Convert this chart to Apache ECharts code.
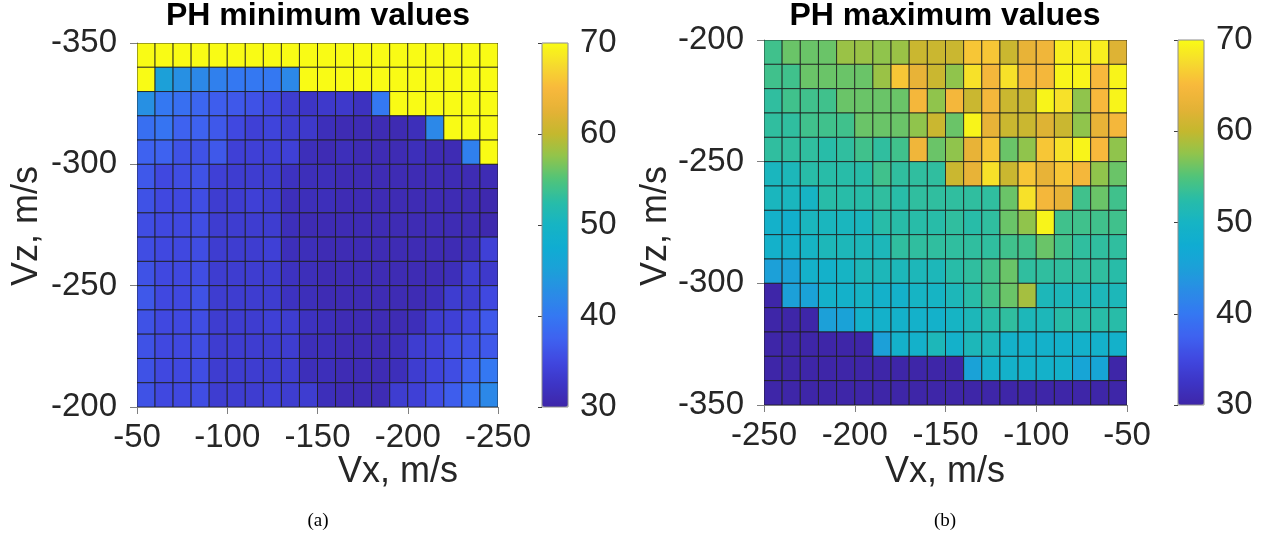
<!DOCTYPE html>
<html>
<head>
<meta charset="utf-8">
<script src="https://cdn.jsdelivr.net/npm/echarts@6/dist/echarts.min.js"></script>
<style>
  html, body { margin: 0; padding: 0; background: #fff; }
  #chart { width: 1261px; height: 548px; }
</style>
</head>
<body>
<div id="chart"></div>
<script>
// cell centres, m/s (cells are 10 m/s wide)
const vxMin = [-55, -65, -75, -85, -95, -105, -115, -125, -135, -145, -155, -165, -175, -185, -195, -205, -215, -225, -235, -245]
const vzMin = [-345, -335, -325, -315, -305, -295, -285, -275, -265, -255, -245, -235, -225, -215, -205]
const vxMax = [-245, -235, -225, -215, -205, -195, -185, -175, -165, -155, -145, -135, -125, -115, -105, -95, -85, -75, -65, -55]
const vzMax = [-205, -215, -225, -235, -245, -255, -265, -275, -285, -295, -305, -315, -325, -335, -345]

// PH minimum, rows top -> bottom, columns left -> right
const phMin = [
  [70, 70, 70, 70, 70, 70, 70, 70, 70, 70, 70, 70, 70, 70, 70, 70, 70, 70, 70, 70],
  [70, 45, 43, 42, 41, 40, 40, 40, 42, 70, 70, 70, 70, 70, 70, 70, 70, 70, 70, 70],
  [43, 40, 39, 38, 37, 36.5, 36, 35, 33.5, 32.5, 33, 33, 32, 40, 70, 70, 70, 70, 70, 70],
  [39, 39.5, 37.5, 37.5, 36.5, 35, 34, 34.5, 33.5, 33, 31.5, 31, 31, 31, 30.8, 31.5, 42, 70, 70, 70],
  [37.5, 37.5, 36, 36, 36.5, 34, 34, 34, 34, 31.5, 31, 31.5, 31, 31, 31, 31.5, 31, 31, 41, 70],
  [36.5, 35, 35.5, 36, 34, 33.5, 33.5, 33.5, 32, 31.5, 31.5, 31, 31, 31, 31, 31, 31, 31, 31, 31],
  [36, 35, 35, 35.5, 33.5, 33.5, 34, 33.5, 31.5, 31.5, 31.5, 31, 31, 31, 31, 31, 31, 31, 31, 30.5],
  [35.5, 35, 35, 35.5, 33.5, 33.5, 33.5, 33.5, 31.5, 31, 31, 31, 31, 31, 31, 31, 31, 31, 31, 30.5],
  [35.5, 35, 35, 35.5, 33.5, 33.5, 33.5, 34, 31.5, 31.5, 31, 31, 31, 31, 31, 31, 31, 31, 31.5, 34],
  [36, 35, 35, 35.5, 33.5, 33.5, 33.5, 33.5, 32, 31.5, 31, 31, 31, 31, 31, 31, 31, 31.5, 33.5, 33],
  [36.5, 35, 35, 36, 33.5, 33.5, 33.5, 33.5, 32, 31.5, 31, 31, 31, 31, 31, 31, 31.5, 33.5, 33.5, 35],
  [36, 35, 35, 35.5, 33.5, 33.5, 33.5, 34, 33.5, 32, 31.5, 31, 31, 31, 31, 31.5, 33.5, 34, 35, 36.5],
  [36, 35, 35, 35.5, 33.5, 33.5, 33.5, 33.5, 33.5, 31.5, 31.5, 31, 31, 31, 31.5, 33.5, 34, 35.5, 36, 36.5],
  [36, 35, 35, 35.5, 33.5, 33.5, 33.5, 33.5, 33.5, 31.5, 31.5, 31, 31, 31, 31.5, 33.5, 34.5, 35.5, 37.5, 40],
  [36, 35, 35, 35.5, 33.5, 33.5, 33.5, 34, 33.5, 33.5, 31.5, 31, 31, 31, 33.5, 34, 35.5, 37, 39.5, 42]
]

// PH maximum, rows top -> bottom, columns left -> right
const phMax = [
  [54, 56, 56, 56, 58, 58, 57.5, 58, 60.5, 60.5, 60.5, 66, 66, 60.5, 63, 64, 69, 69, 69, 62],
  [54, 54, 56, 56, 56, 56, 58, 66, 63, 60.5, 57.5, 68, 64.5, 68, 64.5, 64.5, 69.5, 69.5, 65, 69.5],
  [53, 54, 54, 54, 56, 56, 56, 56, 64.5, 57.5, 64.5, 60.5, 64.5, 60.5, 60.5, 69.5, 68, 57.5, 65, 69.5],
  [53, 53, 54, 54, 54, 56, 56, 56, 57.5, 60.5, 56, 69.5, 63, 60.5, 60.5, 62, 60.5, 57.5, 63, 64.5],
  [53, 53, 53, 52.5, 53, 54, 53, 54, 64, 56, 57.5, 63, 66, 56, 57.5, 66, 68, 69.5, 65, 57.5],
  [50.5, 51, 52.5, 52.5, 52.5, 52.5, 54, 53, 53, 53, 60.5, 63, 68, 60.5, 66, 63, 66, 64.5, 57.5, 56],
  [50.5, 50.5, 50, 52.5, 52.5, 52.5, 53, 52.5, 53, 53, 53, 53, 53, 56, 68, 64.5, 63, 54, 56, 54],
  [49, 48.5, 50.5, 50.5, 50.5, 50.5, 52.5, 52.5, 52.5, 52.5, 53, 52.5, 53, 56, 57.5, 69.5, 54, 54, 54, 54],
  [49, 49, 50, 51, 51, 51, 51, 53, 53, 53, 53, 53, 53, 54, 54, 56, 54, 53, 53, 53],
  [45, 45.5, 49, 49, 50, 51, 51, 51, 51, 51, 52.5, 53, 54, 56, 53, 53, 53, 53, 53, 52.5],
  [30, 45, 45.5, 49, 49, 50, 49, 49, 50, 50, 51, 52.5, 54, 56, 58.5, 51, 51, 51, 51, 51],
  [30, 30, 30, 45, 45.5, 49, 49, 49, 49, 49, 50, 51, 52.5, 53, 51, 51, 52.5, 52.5, 52.5, 52.5],
  [30, 30, 30, 30, 30, 30, 45, 49, 49, 51, 49, 51, 51, 49, 49, 49, 49, 49, 49, 49],
  [30, 30, 30, 30, 30, 30, 30, 30, 30, 30, 30, 45.5, 49, 49, 49, 49, 49, 46, 46, 30],
  [30, 30, 30, 30, 30, 30, 30, 30, 30, 30, 30, 30, 30, 30, 30, 30, 30, 30, 30, 30]
]

// parula-like colour map, 30 -> 70
const parula = ['#3e26a8', '#3d35c6', '#4048e0', '#3e62f0', '#3478f2', '#2a8ce6', '#1ca0d8', '#10acd2',
  '#16b4c4', '#28bca8', '#50c47a', '#90c44c', '#c4b82e', '#e4b236', '#f8b83c', '#f6da2e', '#f9fb15']

const HALF = 5
const FONT = 'Liberation Sans, Arial, Helvetica, sans-serif'
const TXT = '#262626'

const toCells = (xs, zs, grid) => {
  const out = []
  grid.forEach((row, r) => row.forEach((v, c) => out.push([xs[c], zs[r], v])))
  return out
}

const renderCell = (params, api) => {
  const x = api.value(0)
  const y = api.value(1)
  const a = api.coord([x - HALF, y - HALF])
  const b = api.coord([x + HALF, y + HALF])
  return {
    type: 'rect',
    shape: {
      x: Math.min(a[0], b[0]),
      y: Math.min(a[1], b[1]),
      width: Math.abs(b[0] - a[0]),
      height: Math.abs(b[1] - a[1])
    },
    style: { fill: api.visual('color'), stroke: '#1c1c1c', lineWidth: 0.8 }
  }
}

const valueAxis = (grid, min, max, inverse, margin) => ({
  type: 'value',
  gridIndex: grid,
  min, max, interval: 50, inverse,
  axisLine: { show: true, onZero: false, lineStyle: { color: '#808080', width: 1 } },
  axisTick: { show: true, inside: false, length: 7, lineStyle: { color: '#808080' } },
  splitLine: { show: false },
  axisLabel: { color: TXT, fontSize: 33, fontFamily: FONT, margin }
})

const barAxis = (grid) => ({
  type: 'value',
  gridIndex: grid,
  position: 'right',
  min: 30, max: 70, interval: 10,
  axisLine: { show: false },
  axisTick: { show: true, inside: true, length: 4, lineStyle: { color: '#404040' } },
  splitLine: { show: false },
  axisLabel: { color: TXT, fontSize: 33, fontFamily: FONT, margin: 12 }
})

const nameStyle = { fontSize: 36, fontFamily: FONT, fill: TXT, textAlign: 'center', textVerticalAlign: 'middle' }
const capStyle = { fontSize: 19, fontFamily: 'Liberation Serif, Times New Roman, serif', fill: '#000', textAlign: 'center', textVerticalAlign: 'middle' }

const chart = echarts.init(document.getElementById('chart'))

const option = {
  backgroundColor: '#fff',
  animation: false,
  title: [
    { text: 'PH minimum values', left: 318, top: 0, textAlign: 'center', padding: 0,
      textStyle: { fontSize: 32, fontWeight: 'bold', color: '#000', fontFamily: FONT } },
    { text: 'PH maximum values', left: 945, top: 0, textAlign: 'center', padding: 0,
      textStyle: { fontSize: 32, fontWeight: 'bold', color: '#000', fontFamily: FONT } }
  ],
  grid: [
    { left: 137, top: 43, width: 361, height: 364 },
    { left: 764, top: 40, width: 363, height: 365 },
    { left: 542, top: 43, width: 26, height: 364, show: true, borderColor: '#8c8c8c', borderWidth: 1, z: 10 },
    { left: 1178, top: 40, width: 26, height: 365, show: true, borderColor: '#8c8c8c', borderWidth: 1, z: 10 }
  ],
  xAxis: [
    valueAxis(0, -250, -50, true, 14),
    valueAxis(1, -250, -50, false, 14),
    { type: 'value', gridIndex: 2, show: false },
    { type: 'value', gridIndex: 3, show: false }
  ],
  yAxis: [
    valueAxis(0, -350, -200, true, 20),
    valueAxis(1, -350, -200, false, 20),
    barAxis(2),
    barAxis(3)
  ],
  visualMap: [
    { type: 'continuous', seriesIndex: 0, dimension: 2, min: 30, max: 70, inRange: { color: parula },
      calculable: false, hoverLink: false, orient: 'vertical', left: 542, top: 43,
      itemWidth: 26, itemHeight: 364, padding: 0 },
    { type: 'continuous', seriesIndex: 1, dimension: 2, min: 30, max: 70, inRange: { color: parula },
      calculable: false, hoverLink: false, orient: 'vertical', left: 1178, top: 40,
      itemWidth: 26, itemHeight: 365, padding: 0 }
  ],
  series: [
    { name: 'PH minimum', type: 'custom', xAxisIndex: 0, yAxisIndex: 0, renderItem: renderCell,
      encode: { x: 0, y: 1 }, data: toCells(vxMin, vzMin, phMin), clip: true },
    { name: 'PH maximum', type: 'custom', xAxisIndex: 1, yAxisIndex: 1, renderItem: renderCell,
      encode: { x: 0, y: 1 }, data: toCells(vxMax, vzMax, phMax), clip: true }
  ],
  graphic: [
    { type: 'text', x: 27, y: 226, rotation: Math.PI / 2, style: { ...nameStyle, text: 'Vz, m/s' } },
    { type: 'text', x: 656, y: 226, rotation: Math.PI / 2, style: { ...nameStyle, text: 'Vz, m/s' } },
    { type: 'text', x: 398, y: 472, style: { ...nameStyle, text: 'Vx, m/s' } },
    { type: 'text', x: 945, y: 472, style: { ...nameStyle, text: 'Vx, m/s' } },
    { type: 'text', x: 318, y: 521, style: { ...capStyle, text: '(a)' } },
    { type: 'text', x: 945, y: 521, style: { ...capStyle, text: '(b)' } }
  ]
}

chart.setOption(option)
</script>
</body>
</html>
